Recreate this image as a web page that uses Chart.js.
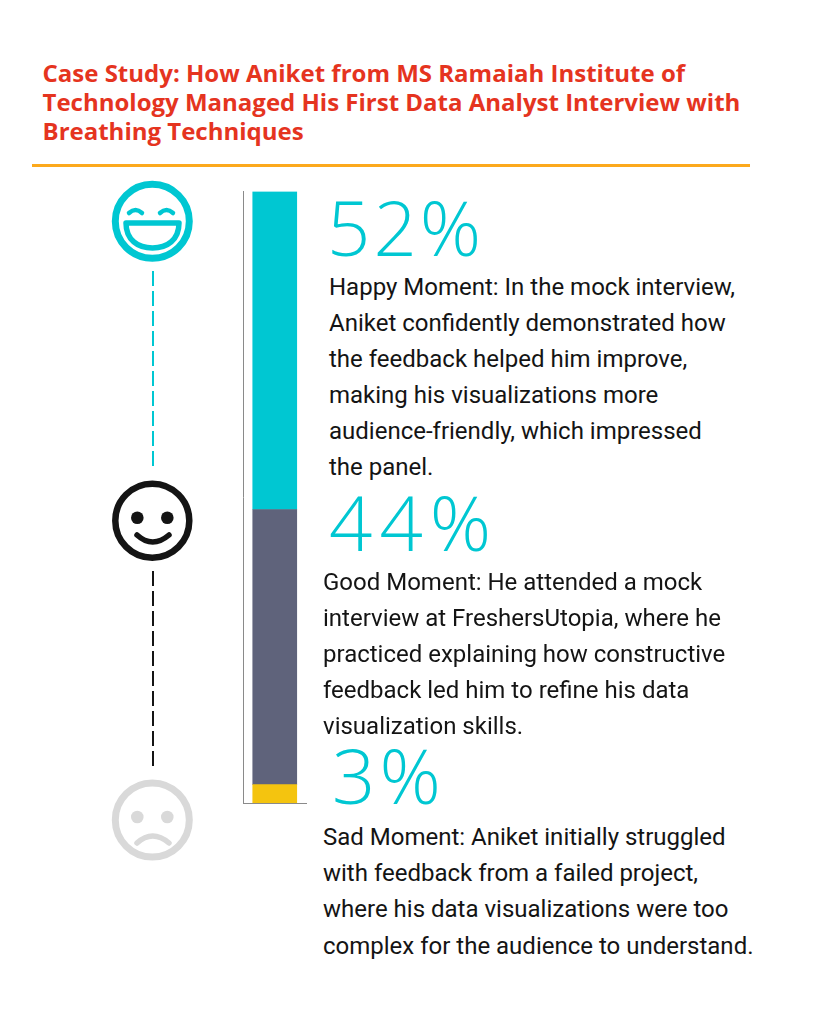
<!DOCTYPE html>
<html>
<head>
<meta charset="utf-8">
<script src="https://cdn.jsdelivr.net/npm/chart.js@4"></script>
<style>
  html, body { margin: 0; padding: 0; background: #fff; }
  #page { position: relative; width: 816px; height: 1016px; overflow: hidden; }
  #page div { position: absolute; white-space: nowrap; }
  .title { font: 700 24px/26px "Open Sans", sans-serif; color: #e5341f; left: 42.500px; }
  .body { font: 400 24px/28px Roboto, sans-serif; color: #141414; }
  .pct { font: 300 76px/60px "Open Sans", sans-serif; color: #00c7d2; }
  #rule { left: 32px; top: 164px; width: 718px; height: 3px; background: #fca91c; }
  #barBox { left: 235px; top: 180px; width: 90px; height: 640px; }
  svg { position: absolute; left: 0; top: 0; }
</style>
</head>
<body>
<div id="page">
  <div id="rule"></div>
  <svg width="816" height="1016" fill="none">
    <!-- happy -->
    <g stroke="#00c7d2">
      <circle cx="152.300" cy="221.300" r="37" stroke-width="7"/>
      <path d="M129 213 q6.500 -6 13 0 M160 213 q6.500 -6 13 0" stroke-width="4.500" stroke-linecap="round"/>
      <path d="M126 223 H179 C179 240 167 248 152.500 248 C138 248 126 240 126 223 Z" stroke-width="5.500" stroke-linejoin="round"/>
      <line x1="153" y1="271" x2="153" y2="467" stroke-width="2" stroke-dasharray="15 5"/>
    </g>
    <!-- good -->
    <g stroke="#141414">
      <circle cx="152.300" cy="520.700" r="37" stroke-width="6.500"/>
      <circle cx="137.300" cy="517.700" r="6.300" fill="#141414" stroke="none"/>
      <circle cx="167.300" cy="517.700" r="6.300" fill="#141414" stroke="none"/>
      <path d="M137 535 Q152.500 549 169 535" stroke-width="5.500" stroke-linecap="round"/>
      <line x1="153" y1="571" x2="153" y2="766" stroke-width="2" stroke-dasharray="15 5"/>
    </g>
    <!-- sad -->
    <g stroke="#d9d9d9">
      <circle cx="152.300" cy="820" r="37" stroke-width="7"/>
      <circle cx="137.300" cy="817" r="6.300" fill="#d9d9d9" stroke="none"/>
      <circle cx="167.300" cy="817" r="6.300" fill="#d9d9d9" stroke="none"/>
      <path d="M137 843 Q152.500 829 169 843" stroke-width="5.500" stroke-linecap="round"/>
    </g>
  </svg>
  <div id="barBox"><canvas id="barChart" width="90" height="640"></canvas></div>
</div>
<script>
// Chart data
const categories = ['Case study'];
const sadValues = [3];
const goodValues = [45];
const happyValues = [52];

// Text blocks
const titleLines = [
    'Case Study: How Aniket from MS Ramaiah Institute of',
    'Technology Managed His First Data Analyst Interview with',
    'Breathing Techniques'
];
const percentLabels = ['52%', '44%', '3%'];
const happyLines = [
    'Happy Moment: In the mock interview,',
    'Aniket confidently demonstrated how',
    'the feedback helped him improve,',
    'making his visualizations more',
    'audience-friendly, which impressed',
    'the panel.'
];
const goodLines = [
    'Good Moment: He attended a mock',
    'interview at FreshersUtopia, where he',
    'practiced explaining how constructive',
    'feedback led him to refine his data',
    'visualization skills.'
];
const sadLines = [
    'Sad Moment: Aniket initially struggled',
    'with feedback from a failed project,',
    'where his data visualizations were too',
    'complex for the audience to understand.'
];

const page = document.getElementById('page');

function addText(cls, text, left, top, spacing) {
    const el = document.createElement('div');
    el.className = cls;
    el.textContent = text;
    if (left !== null) el.style.left = left + 'px';
    el.style.top = top + 'px';
    if (spacing) el.style.letterSpacing = spacing + 'px';
    page.appendChild(el);
}

titleLines.forEach((line, i) => addText('title', line, null, 59.500 + i * 29));
addText('pct', percentLabels[0], 327, 197, 3);
addText('pct', percentLabels[1], 329, 492, 7);
addText('pct', percentLabels[2], 332, 745, 4);
happyLines.forEach((line, i) => addText('body', line, 329, 273 + i * 36));
goodLines.forEach((line, i) => addText('body', line, 323, 568 + i * 36));
sadLines.forEach((line, i) => addText('body', line, 323, 823 + i * 36.200));

new Chart(document.getElementById('barChart'), {
    type: 'bar',
    data: {
        labels: categories,
        datasets: [
            { label: 'Sad', data: sadValues, backgroundColor: '#f4c40f' },
            { label: 'Good', data: goodValues, backgroundColor: '#5f637b' },
            { label: 'Happy', data: happyValues, backgroundColor: '#00c7d2' }
        ]
    },
    options: {
        responsive: false,
        animation: false,
        layout: { padding: { left: 8, top: 11.500, right: 18.500, bottom: 17 } },
        datasets: { bar: { barThickness: 44 } },
        plugins: { legend: { display: false }, tooltip: { enabled: false } },
        scales: {
            x: {
                stacked: true,
                grid: { display: false, drawTicks: false },
                ticks: { display: false },
                border: { color: '#8a8a8a', width: 1 }
            },
            y: {
                stacked: true,
                min: 0,
                max: 100,
                grid: { display: false, drawTicks: false },
                ticks: { display: false },
                border: { color: '#8a8a8a', width: 1 }
            }
        }
    }
});
</script>
</body>
</html>
